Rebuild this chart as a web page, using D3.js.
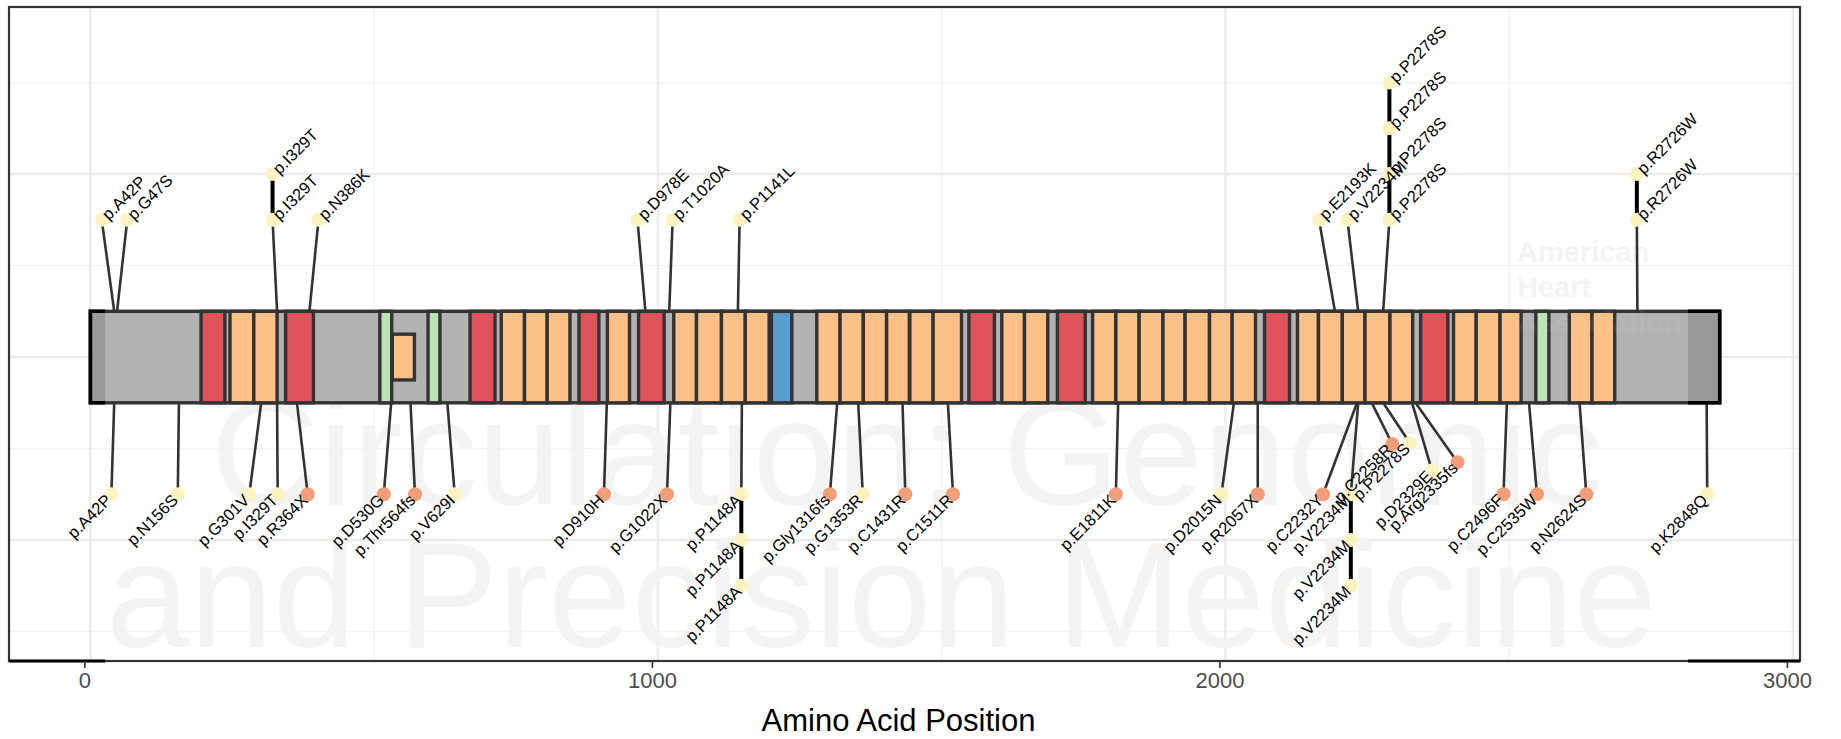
<!DOCTYPE html>
<html>
<head>
<meta charset="utf-8">
<script src="https://cdn.jsdelivr.net/npm/d3@7"></script>
<style>
  body { margin: 0; background: #fff; }
  svg { display: block; font-family: "Liberation Sans", Arial, Helvetica, sans-serif; }
</style>
</head>
<body>
<div id="chart"></div>
<script>
// ---- data ----
const proteinLength = 2871;

// protein domains (amino acid start / end, category)
const domainStart = [195, 246, 288, 344, 510, 595, 669, 724, 765, 805, 861, 911, 966, 1028, 1068, 1112, 1154, 1200,
  1280, 1321, 1362, 1403, 1444, 1485, 1548, 1606, 1646, 1704, 1766, 1807, 1848, 1890, 1929, 1972, 2012, 2069,
  2127, 2164, 2206, 2246, 2290, 2344, 2402, 2442, 2484, 2547, 2606, 2646];
const domainEnd = [237, 288, 329, 393, 531, 616, 713, 765, 805, 845, 896, 950, 1011, 1068, 1112, 1154, 1196, 1236,
  1321, 1362, 1403, 1443, 1485, 1535, 1593, 1646, 1687, 1753, 1807, 1848, 1890, 1929, 1972, 2012, 2053, 2113,
  2164, 2206, 2246, 2290, 2330, 2392, 2442, 2484, 2521, 2570, 2646, 2686];
const domainType = ['A', 'B', 'B', 'A', 'C', 'C', 'A', 'B', 'B', 'B', 'A', 'B', 'A', 'B', 'B', 'B', 'B', 'D',
  'B', 'B', 'B', 'B', 'B', 'B', 'A', 'B', 'B', 'A', 'B', 'B', 'B', 'B', 'B', 'B', 'B', 'A',
  'B', 'B', 'B', 'B', 'B', 'A', 'B', 'B', 'B', 'C', 'B', 'B'];

// small nested domain
const insetStart = [532];
const insetEnd = [571];

// darker end regions
const capStart = [0, 2815];
const capEnd = [26, 2871];

// variants above the protein
const topLabel = ['p.A42P', 'p.G47S', 'p.I329T', 'p.I329T', 'p.N386K', 'p.D978E', 'p.T1020A', 'p.P1141L',
  'p.E2193K', 'p.V2234M', 'p.P2278S', 'p.P2278S', 'p.P2278S', 'p.P2278S', 'p.R2726W', 'p.R2726W'];
const topPos = [42, 47, 329, 329, 386, 978, 1020, 1141, 2193, 2234, 2278, 2278, 2278, 2278, 2726, 2726];
const topHeadX = [20, 65, 321, 321, 402, 964, 1026, 1144, 2165, 2215, 2289, 2289, 2289, 2289, 2725, 2725];
const topHeadY = [0.75, 0.75, 0.75, 1.0, 0.75, 0.75, 0.75, 0.75, 0.75, 0.75, 0.75, 1.0, 1.25, 1.5, 0.75, 1.0];
const topClass = ['VUS', 'VUS', 'VUS', 'VUS', 'VUS', 'VUS', 'VUS', 'VUS',
  'VUS', 'VUS', 'VUS', 'VUS', 'VUS', 'VUS', 'VUS', 'VUS'];

// variants below the protein
const bottomLabel = ['p.A42P', 'p.N156S', 'p.G301V', 'p.I329T', 'p.R364X', 'p.D530G', 'p.Thr564fs', 'p.V629I',
  'p.D910H', 'p.G1022X', 'p.P1148A', 'p.P1148A', 'p.P1148A', 'p.Gly1316fs', 'p.G1353R', 'p.C1431R',
  'p.C1511R', 'p.E1811K', 'p.D2015N', 'p.R2057X', 'p.C2232Y', 'p.V2234M', 'p.V2234M', 'p.V2234M',
  'p.C2258R', 'p.P2278S', 'p.D2329E', 'p.Arg2335fs', 'p.C2496F', 'p.C2535W', 'p.N2624S', 'p.K2848Q'];
const bottomPos = [42, 156, 301, 329, 364, 530, 564, 629, 910, 1022, 1148, 1148, 1148, 1316, 1353, 1431,
  1511, 1811, 2015, 2057, 2232, 2234, 2234, 2234, 2258, 2278, 2329, 2335, 2496, 2535, 2624, 2848];
const bottomHeadX = [37, 154, 280, 330, 383, 517, 572, 642, 905, 1016, 1147, 1147, 1147, 1303, 1361, 1436,
  1520, 1807, 1993, 2057, 2172, 2221, 2221, 2221, 2294, 2325, 2364, 2409, 2490, 2549, 2636, 2849];
const bottomHeadY = [-0.75, -0.75, -0.75, -0.75, -0.75, -0.75, -0.75, -0.75, -0.75, -0.75, -0.75, -1.0, -1.25,
  -0.75, -0.75, -0.75, -0.75, -0.75, -0.75, -0.75, -0.75, -0.75, -1.0, -1.25, -0.475, -0.47, -0.62, -0.575,
  -0.75, -0.75, -0.75, -0.75];
const bottomClass = ['VUS', 'VUS', 'VUS', 'VUS', 'P', 'P', 'P', 'VUS', 'P', 'P', 'VUS', 'VUS', 'VUS', 'P', 'VUS', 'P',
  'P', 'P', 'VUS', 'P', 'P', 'VUS', 'VUS', 'VUS', 'P', 'VUS', 'VUS', 'P', 'P', 'P', 'P', 'VUS'];

const xTicks = [0, 1000, 2000, 3000];
const xMinor = [500, 1500, 2500];
const yMajor = [-1, 0, 1];
const yMinor = [-1.5, -0.5, 0.5, 1.5];

// ---- chart ----
const W = 1841, H = 739;
const margin = { top: 7, right: 41, bottom: 78, left: 9 };
const width = W - margin.left - margin.right;
const height = H - margin.top - margin.bottom;

const svg = d3.select('#chart').append('svg')
    .attr('width', W)
    .attr('height', H);

const g = svg.append('g')
    .attr('transform', `translate(${margin.left},${margin.top})`);

const x = d3.scaleLinear().domain([-143.4, 3012.5]).range([0, width]);
const y = d3.scaleLinear().domain([-1.661, 1.913]).range([height, 0]);

const domainColor = d3.scaleOrdinal()
    .domain(['A', 'B', 'C', 'D'])
    .range(['#E0525A', '#FDC087', '#BCE3B5', '#5A9ED1']);
const headColor = d3.scaleOrdinal()
    .domain(['VUS', 'P'])
    .range(['#FBF3C0', '#F29E79']);

// Grid
g.selectAll('.vminor').data(xMinor).enter().append('line')
    .attr('x1', d => x(d)).attr('x2', d => x(d))
    .attr('y1', 0).attr('y2', height)
    .attr('stroke', '#F2F2F2').attr('stroke-width', 1.3);
g.selectAll('.hminor').data(yMinor).enter().append('line')
    .attr('x1', 0).attr('x2', width)
    .attr('y1', d => y(d)).attr('y2', d => y(d))
    .attr('stroke', '#F2F2F2').attr('stroke-width', 1.3);
g.selectAll('.vmajor').data(xTicks).enter().append('line')
    .attr('x1', d => x(d)).attr('x2', d => x(d))
    .attr('y1', 0).attr('y2', height)
    .attr('stroke', '#EBEBEB').attr('stroke-width', 2.4);
g.selectAll('.hmajor').data(yMajor).enter().append('line')
    .attr('x1', 0).attr('x2', width)
    .attr('y1', d => y(d)).attr('y2', d => y(d))
    .attr('stroke', '#EBEBEB').attr('stroke-width', 2.4);

// Watermark
const wm = g.append('g').attr('fill', '#F3F3F3');
wm.append('text').attr('x', 202).attr('y', 498).style('font-size', '150px').text('Circulation: Genomic');
wm.append('text').attr('x', 97).attr('y', 640).style('font-size', '150px').text('and Precision Medicine');
const aha = ['American', 'Heart', 'Association'];
wm.selectAll('.aha').data(aha).enter().append('text')
    .attr('x', 1508).attr('y', (d, i) => 255 + i * 35)
    .style('font-size', '29px').style('font-weight', 'bold')
    .text(d => d);

// Lollipop records
const heads = [];
topLabel.forEach((l, i) => heads.push({ side: 1, label: l, pos: topPos[i], hx: topHeadX[i], hy: topHeadY[i], cls: topClass[i] }));
bottomLabel.forEach((l, i) => heads.push({ side: -1, label: l, pos: bottomPos[i], hx: bottomHeadX[i], hy: bottomHeadY[i], cls: bottomClass[i] }));

const groups = Array.from(d3.group(heads, d => d.side + d.label).values());

// Stems
g.selectAll('.stem').data(groups).enter().append('line')
    .attr('class', 'stem')
    .attr('x1', v => x(v[0].pos))
    .attr('y1', v => y(0.25 * v[0].side))
    .attr('x2', v => x(v[0].hx))
    .attr('y2', v => y(v[0].hy))
    .attr('stroke', '#333').attr('stroke-width', 2.6);

// Protein bar
g.append('rect')
    .attr('x', x(0)).attr('y', y(0.25))
    .attr('width', x(proteinLength) - x(0))
    .attr('height', y(-0.25) - y(0.25))
    .attr('fill', '#B2B2B2');

g.selectAll('.cap').data(capStart).enter().append('rect')
    .attr('x', (d, i) => x(d)).attr('y', y(0.25))
    .attr('width', (d, i) => x(capEnd[i]) - x(d))
    .attr('height', y(-0.25) - y(0.25))
    .attr('fill', '#999');

g.append('rect')
    .attr('x', x(0)).attr('y', y(0.25))
    .attr('width', x(proteinLength) - x(0))
    .attr('height', y(-0.25) - y(0.25))
    .attr('fill', 'none').attr('stroke', '#333').attr('stroke-width', 3.4);

g.selectAll('.domain-rect').data(domainStart).enter().append('rect')
    .attr('class', 'domain-rect')
    .attr('x', d => x(d)).attr('y', y(0.25))
    .attr('width', (d, i) => x(domainEnd[i]) - x(d))
    .attr('height', y(-0.25) - y(0.25))
    .attr('fill', (d, i) => domainColor(domainType[i]))
    .attr('stroke', '#333').attr('stroke-width', 3.4);

g.selectAll('.inset').data(insetStart).enter().append('rect')
    .attr('x', d => x(d)).attr('y', y(0.125))
    .attr('width', (d, i) => x(insetEnd[i]) - x(d))
    .attr('height', y(-0.125) - y(0.125))
    .attr('fill', domainColor('B'))
    .attr('stroke', '#333').attr('stroke-width', 3.4);

// black outer edges on the end regions
g.append('path')
    .attr('d', `M${x(capEnd[0])},${y(0.25)}H${x(0)}V${y(-0.25)}H${x(capEnd[0])}`)
    .attr('fill', 'none').attr('stroke', '#000').attr('stroke-width', 3.6);
g.append('path')
    .attr('d', `M${x(capStart[1])},${y(0.25)}H${x(proteinLength)}V${y(-0.25)}H${x(capStart[1])}`)
    .attr('fill', 'none').attr('stroke', '#000').attr('stroke-width', 3.6);

// faint watermark showing through the bar
g.selectAll('.aha-over').data(aha.slice(2)).enter().append('text')
    .attr('x', 1508).attr('y', 325)
    .style('font-size', '29px').style('font-weight', 'bold')
    .attr('fill', '#fff').attr('opacity', 0.05)
    .text(d => d);

// Connectors between stacked heads
g.selectAll('.conn').data(groups.filter(v => v.length > 1)).enter().append('line')
    .attr('x1', v => x(v[0].hx)).attr('x2', v => x(v[0].hx))
    .attr('y1', v => y(v[0].hy))
    .attr('y2', v => y(v[v.length - 1].hy))
    .attr('stroke', '#000').attr('stroke-width', 4);

// Heads
g.selectAll('.head').data(heads).enter().append('circle')
    .attr('cx', d => x(d.hx)).attr('cy', d => y(d.hy))
    .attr('r', 7)
    .attr('fill', d => headColor(d.cls));

// Labels
g.selectAll('.vlabel').data(heads).enter().append('text')
    .attr('transform', d => `translate(${x(d.hx)},${y(d.hy)}) rotate(-45)`)
    .attr('dx', d => d.side > 0 ? 4 : -4)
    .attr('dy', '0.35em')
    .style('text-anchor', d => d.side > 0 ? 'start' : 'end')
    .style('font-size', '16.5px')
    .attr('fill', '#000')
    .text(d => d.label);

// Panel border
g.append('rect')
    .attr('x', 0).attr('y', 0).attr('width', width).attr('height', height)
    .attr('fill', 'none').attr('stroke', '#333').attr('stroke-width', 2.2);
g.append('line')
    .attr('x1', 0).attr('x2', x(capEnd[0])).attr('y1', height).attr('y2', height)
    .attr('stroke', '#000').attr('stroke-width', 3);
g.append('line')
    .attr('x1', x(capStart[1])).attr('x2', width).attr('y1', height).attr('y2', height)
    .attr('stroke', '#000').attr('stroke-width', 3);

// X axis
const axis = g.append('g')
    .attr('transform', `translate(-6,${height})`)
    .call(d3.axisBottom(x).tickValues(xTicks).tickSize(7).tickPadding(4.5).tickFormat(d3.format('d')));
axis.select('.domain').remove();
axis.selectAll('.tick line').attr('stroke', '#333').attr('stroke-width', 1.6);
axis.selectAll('.tick text')
    .attr('fill', '#4D4D4D')
    .style('font-size', '22px')
    .style('font-family', '"Liberation Sans", Arial, sans-serif');

g.append('text')
    .attr('x', width / 2 - 6)
    .attr('y', height + 70)
    .style('text-anchor', 'middle')
    .style('font-size', '31px')
    .attr('fill', '#000')
    .text('Amino Acid Position');
</script>
</body>
</html>
